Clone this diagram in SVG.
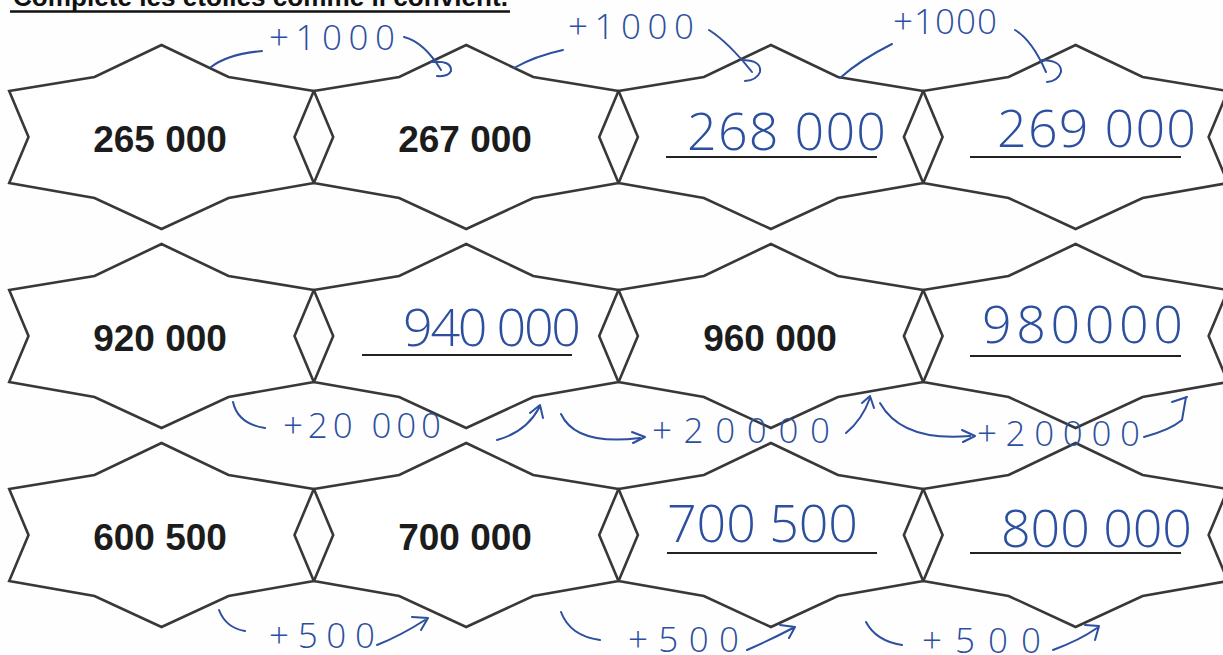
<svg xmlns="http://www.w3.org/2000/svg" xmlns:xlink="http://www.w3.org/1999/xlink" width="1223" height="655" viewBox="0 0 1223 655">
<style>
.star{fill:#ffffff;stroke:#383838;stroke-width:2.6;stroke-linejoin:miter}
.num{font-family:"Liberation Sans",Arial,sans-serif;font-weight:bold;font-size:37px;fill:#1c1c1c;text-anchor:middle}
.hw{font-family:"Open Sans","Lato",sans-serif;font-weight:300;font-size:52px;fill:#2c4f9f}
.lbl{font-family:"Open Sans","Lato",sans-serif;font-weight:300;font-size:35px;fill:#2c4f9f}
.ul{stroke:#222;stroke-width:2.2}
.pen{fill:none;stroke:#2c4f9f;stroke-width:2;stroke-linecap:round;stroke-linejoin:round}
.title{font-family:"Liberation Sans",Arial,sans-serif;font-weight:bold;font-size:26px;fill:#111}
</style>
<defs>
<path id="star" d="M0,-92 L67,-60 L152.3,-46 L133,0 L152.3,46 L67,61 L0,92 L-67,61 L-152.3,46 L-133,0 L-152.3,-46 L-67,-60 Z"/>
</defs>
<rect width="1223" height="655" fill="#fefefe"/>
<g id="title">
<text class="title" x="13" y="6" textLength="495" lengthAdjust="spacingAndGlyphs">Complète les étoiles comme il convient.</text>
<line x1="10" y1="11.5" x2="510" y2="11.5" stroke="#111" stroke-width="2.5"/>
</g>
<g id="row1">
<g id="n265000"><use xlink:href="#star" href="#star" class="star" x="161.5" y="137"/><text class="num" x="160" y="152">265 000</text></g>
<g id="n267000"><use xlink:href="#star" href="#star" class="star" x="466.2" y="137"/><text class="num" x="465" y="152">267 000</text></g>
<g id="n268000"><use xlink:href="#star" href="#star" class="star" x="770.9" y="137"/><line class="ul" x1="666" y1="157" x2="877" y2="157"/><text class="hw" x="687" y="150" textLength="199" lengthAdjust="spacing">268 000</text></g>
<g id="n269000"><use xlink:href="#star" href="#star" class="star" x="1075.6" y="137"/><line class="ul" x1="970" y1="157" x2="1181" y2="157"/><text class="hw" x="997" y="147" textLength="199" lengthAdjust="spacing">269 000</text></g>
</g>
<g id="row2">
<g id="n920000"><use xlink:href="#star" href="#star" class="star" x="161.5" y="336"/><text class="num" x="160" y="351">920 000</text></g>
<g id="n940000"><use xlink:href="#star" href="#star" class="star" x="466.2" y="336"/><line class="ul" x1="362" y1="355" x2="572" y2="355"/><text class="hw" x="403" y="346" textLength="178" lengthAdjust="spacing">940 000</text></g>
<g id="n960000"><use xlink:href="#star" href="#star" class="star" x="770.9" y="336"/><text class="num" x="770" y="351">960 000</text></g>
<g id="n980000"><use xlink:href="#star" href="#star" class="star" x="1075.6" y="336"/><line class="ul" x1="970" y1="356" x2="1181" y2="356"/><text class="hw" x="982" y="343" textLength="201" lengthAdjust="spacing">980000</text></g>
</g>
<g id="row3">
<g id="n600500"><use xlink:href="#star" href="#star" class="star" x="161.5" y="535"/><text class="num" x="160" y="550">600 500</text></g>
<g id="n700000"><use xlink:href="#star" href="#star" class="star" x="466.2" y="535"/><text class="num" x="465" y="550">700 000</text></g>
<g id="n700500"><use xlink:href="#star" href="#star" class="star" x="770.9" y="535"/><line class="ul" x1="667" y1="553" x2="877" y2="553"/><text class="hw" x="667" y="542" textLength="191" lengthAdjust="spacing">700 500</text></g>
<g id="n800000"><use xlink:href="#star" href="#star" class="star" x="1075.6" y="535"/><line class="ul" x1="970" y1="553" x2="1181" y2="553"/><text class="hw" x="1001" y="547" textLength="191" lengthAdjust="spacing">800 000</text></g>
</g>
<g id="connectors">
<path class="pen" d="M211,67 Q228,54 262,51"/>
<path class="pen" d="M404,37 Q424,42 441,70 M431,62 Q452,60 451,71 Q448,77 437,76"/>
<path class="pen" d="M514,68 Q535,56 563,50"/>
<path class="pen" d="M709,30 Q728,42 752,72 M741,60 Q762,60 760,72 Q757,80 745,81"/>
<path class="pen" d="M840,78 Q860,60 892,44"/>
<path class="pen" d="M1015,30 Q1032,40 1046,72 M1040,60 Q1062,60 1061,72 Q1058,81 1047,82"/>
<path class="pen" d="M233,402 Q238,424 265,428"/>
<path class="pen" d="M497,440 Q526,432 539,408 M530,413 L540,405 L543,418"/>
<path class="pen" d="M561,414 Q576,446 640,438 M632,432 L645,437 L633,443"/>
<path class="pen" d="M846,433 Q862,420 870,398 M862,403 L870,396 L874,408"/>
<path class="pen" d="M880,403 Q902,442 970,436 M962,430 L975,436 L963,442"/>
<path class="pen" d="M1144,437 Q1170,430 1182,420 L1186,397 M1172,402 L1187,397"/>
<path class="pen" d="M219,610 Q226,628 245,631"/>
<path class="pen" d="M377,645 Q400,636 425,620 M412,617 L428,618 L421,630"/>
<path class="pen" d="M561,612 Q570,636 600,640"/>
<path class="pen" d="M747,650 Q770,640 793,628 M780,625 L795,627 L789,638"/>
<path class="pen" d="M866,622 Q876,641 902,645"/>
<path class="pen" d="M1053,650 Q1080,640 1097,628 M1085,625 L1099,626 L1095,640"/>
<text class="lbl" x="269" y="50" textLength="126" lengthAdjust="spacing">+1000</text>
<text class="lbl" x="568" y="39" textLength="126" lengthAdjust="spacing">+1000</text>
<text class="lbl" x="893" y="34" textLength="104" lengthAdjust="spacing">+1000</text>
<text class="lbl" x="283" y="438" textLength="158" lengthAdjust="spacing">+20 000</text>
<text class="lbl" x="652" y="443" textLength="178" lengthAdjust="spacing">+20000</text>
<text class="lbl" x="977" y="446" textLength="163" lengthAdjust="spacing">+20000</text>
<text class="lbl" x="269" y="648" textLength="106" lengthAdjust="spacing">+500</text>
<text class="lbl" x="628" y="652" textLength="111" lengthAdjust="spacing">+500</text>
<text class="lbl" x="922" y="653" textLength="119" lengthAdjust="spacing">+500</text>
</g>
</svg>
